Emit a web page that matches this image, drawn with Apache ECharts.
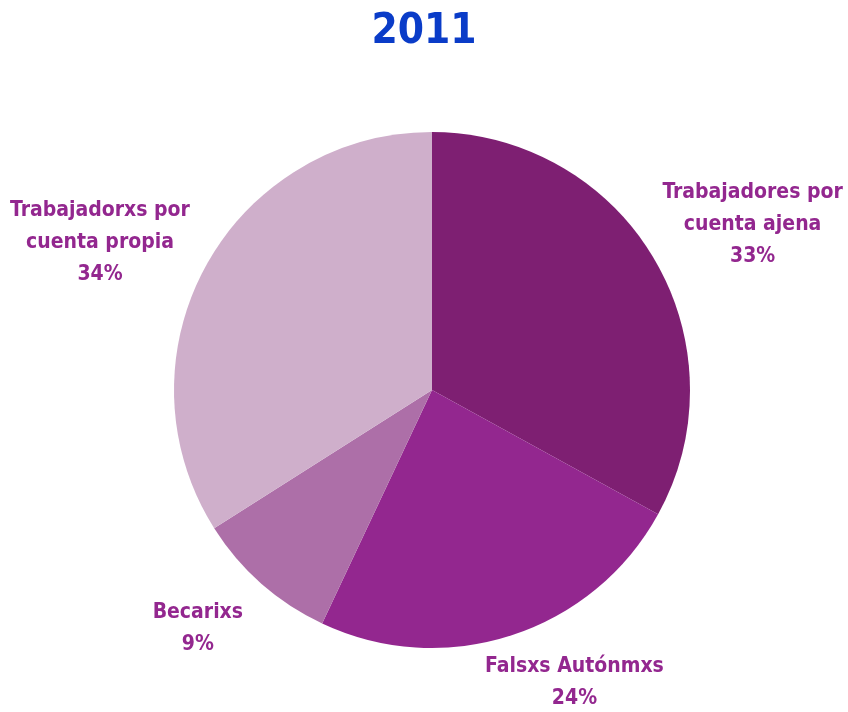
<!DOCTYPE html>
<html>
<head>
<meta charset="utf-8">
<script src="https://cdn.jsdelivr.net/npm/echarts@6/dist/echarts.min.js"></script>
<style>
    html, body { margin: 0; padding: 0; background: #fff; }
    #chart { width: 848px; height: 712px; }
</style>
</head>
<body>
<div id="chart"></div>
<script>
    const categories = ["Trabajadores por\ncuenta ajena", "Falsxs Autónmxs", "Becarixs", "Trabajadorxs por\ncuenta propia"];
    const values = [33, 24, 9, 34];
    const colors = ["#7E1F72", "#93278F", "#AD6FA8", "#CFAFCB"];
    // desplazamiento de cada etiqueta
    const labelShift = [[72, -21], [50, 23], [-42, 26], [-79, -11]];

    const font = "'Liberation Sans Narrow', 'DejaVu Sans Condensed', sans-serif";
    const myChart = echarts.init(document.getElementById("chart"));
    const option = {
        title: {
            text: "2011",
            left: "center",
            top: 6,
            textStyle: {
                color: "#0A3CC8",
                fontSize: 42,
                fontWeight: "bold",
                fontFamily: font
            }
        },
        series: [
            {
                type: "pie",
                center: [432, 390],
                radius: 258,
                startAngle: 90,
                data: categories.map((name, i) => ({
                    name,
                    value: values[i],
                    itemStyle: { color: colors[i] }
                })),
                label: {
                    position: "outside",
                    formatter: "{b}\n{d}%",
                    color: "#93278F",
                    fontSize: 21,
                    fontWeight: "bold",
                    fontFamily: font,
                    lineHeight: 32,
                    overflow: "none",
                    align: "center"
                },
                labelLine: { show: false, length: 25, length2: 0 },
                labelLayout: (params) => ({
                    align: "center",
                    dx: labelShift[params.dataIndex][0],
                    dy: labelShift[params.dataIndex][1]
                }),
                emphasis: { disabled: true }
            }
        ]
    };
    myChart.setOption(option);
</script>
</body>
</html>
